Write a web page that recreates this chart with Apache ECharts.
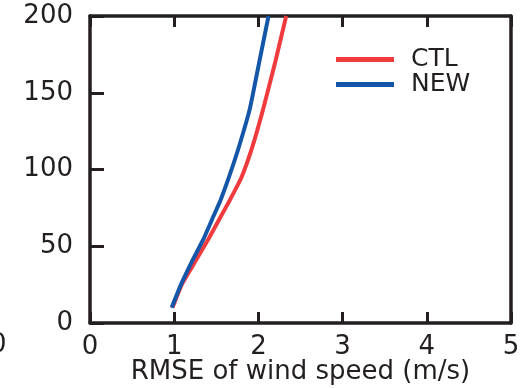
<!DOCTYPE html>
<html>
<head>
<meta charset="utf-8">
<script src="https://cdn.jsdelivr.net/npm/echarts@6/dist/echarts.min.js"></script>
<style>
  html, body { margin: 0; padding: 0; background: #fff; }
  #chart { width: 526px; height: 388px; }
</style>
</head>
<body>
<div id="chart"></div>
<script>
// Vertical profile of wind-speed RMSE: heights (y) against error (x)
const heights = [10, 25, 40, 55, 70, 80, 95, 115, 140, 170, 200];
const rmseCTL = [0.98, 1.09, 1.25, 1.41, 1.56, 1.66, 1.80, 1.93, 2.06, 2.20, 2.33];
const rmseNEW = [0.97, 1.08, 1.21, 1.35, 1.47, 1.55, 1.65, 1.77, 1.90, 2.01, 2.12];
const seriesNames = ['CTL', 'NEW'];
const xTitle = 'RMSE of wind speed (m/s)';

const ink = '#231f20';
const font = 'DejaVu Sans';

function pairs(xs) {
  return xs.map((v, i) => [v, heights[i]]);
}

const chart = echarts.init(document.getElementById('chart'), null, { renderer: 'canvas' });

const frameLine = { show: true, onZero: false, lineStyle: { color: ink, width: 3.5 } };
const tickStyle = { color: ink, width: 3 };

chart.setOption({
  animation: false,
  backgroundColor: '#fff',
  grid: { left: 90, right: 15, top: 16, bottom: 65, containLabel: false, outerBoundsMode: 'none' },
  legend: {
    orient: 'vertical',
    left: 331,
    top: 42,
    itemWidth: 58,
    itemHeight: 5,
    itemGap: 0,
    icon: 'rect',
    textStyle: { color: ink, fontFamily: font, fontSize: 25, padding: [0, 0, 0, 12] },
    data: seriesNames
  },
  xAxis: [
    {
      type: 'value', min: 0, max: 5, interval: 1, position: 'bottom',
      axisLine: frameLine,
      axisTick: { show: true, inside: true, length: 11, lineStyle: tickStyle },
      axisLabel: { color: ink, fontFamily: font, fontSize: 26, margin: 11, showMaxLabel: true, showMinLabel: true },
      splitLine: { show: false },
      name: xTitle, nameLocation: 'middle', nameGap: 36, nameMoveOverlap: false,
      nameTextStyle: { color: ink, fontFamily: font, fontSize: 26 }
    },
    {
      type: 'value', min: 0, max: 5, interval: 1, position: 'top',
      axisLine: frameLine,
      axisTick: { show: true, inside: true, length: 11, lineStyle: tickStyle },
      axisLabel: { show: false },
      splitLine: { show: false }
    }
  ],
  yAxis: [
    {
      type: 'value', min: 0, max: 200, interval: 50, position: 'left',
      axisLine: frameLine,
      axisTick: { show: true, inside: true, length: 14, lineStyle: tickStyle },
      axisLabel: { color: ink, fontFamily: font, fontSize: 26, margin: 17 },
      splitLine: { show: false }
    },
    {
      type: 'value', min: 0, max: 200, interval: 50, position: 'right',
      axisLine: frameLine,
      axisTick: { show: false },
      axisLabel: { show: false },
      splitLine: { show: false }
    }
  ],
  series: [
    {
      name: seriesNames[0], type: 'line', xAxisIndex: 0, yAxisIndex: 0,
      data: pairs(rmseCTL), symbol: 'none', smooth: 0.15,
      lineStyle: { color: '#ef3b3e', width: 4 }, itemStyle: { color: '#ef3b3e' }
    },
    {
      name: seriesNames[1], type: 'line', xAxisIndex: 0, yAxisIndex: 0,
      data: pairs(rmseNEW), symbol: 'none', smooth: 0.15,
      lineStyle: { color: '#1457a8', width: 4 }, itemStyle: { color: '#1457a8' }
    }
  ],
  graphic: [
    {
      // clipped tick label of the adjoining panel at the left edge
      type: 'text', left: -10, top: 332,
      style: { text: '0', fill: ink, font: '26px "DejaVu Sans"' }
    }
  ]
});
</script>
</body>
</html>
